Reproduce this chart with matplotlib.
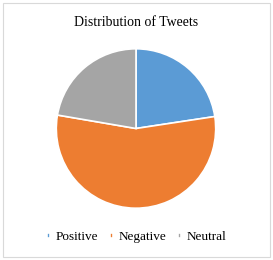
import matplotlib.pyplot as plt
from matplotlib.patches import Rectangle

labels = ['Positive', 'Negative', 'Neutral']
values = [22.6, 55.1, 22.3]
colors = ['#5B9BD5', '#ED7D31', '#A5A5A5']

plt.rcParams['font.family'] = 'Liberation Serif'

fig = plt.figure(figsize=(2.73, 2.6), dpi=100)
fig.patches.append(Rectangle((0.011, 0.012), 0.978, 0.976, transform=fig.transFigure,
                             fill=False, edgecolor='#D9D9D9', linewidth=0.8))

r = 80.5
ax = fig.add_axes([(136 - r) / 273, 1 - (128.5 + r) / 260, 2 * r / 273, 2 * r / 260])
wedges, _ = ax.pie(values, colors=colors, startangle=90, counterclock=False,
                   wedgeprops=dict(edgecolor='white', linewidth=1.2))
ax.set_xlim(-1.01, 1.01)
ax.set_ylim(-1.01, 1.01)
ax.set_aspect('equal')

fig.text(0.5, 1 - 22 / 260, 'Distribution of Tweets', ha='center', va='center', fontsize=10)

fig.legend(wedges, labels, loc='center', bbox_to_anchor=(0.5, 1 - 237 / 260), ncol=3,
           frameon=False, fontsize=9.5, handlelength=0.25, handleheight=0.25,
           handletextpad=0.4, columnspacing=0.9)

fig.savefig('out.png', dpi=100)
